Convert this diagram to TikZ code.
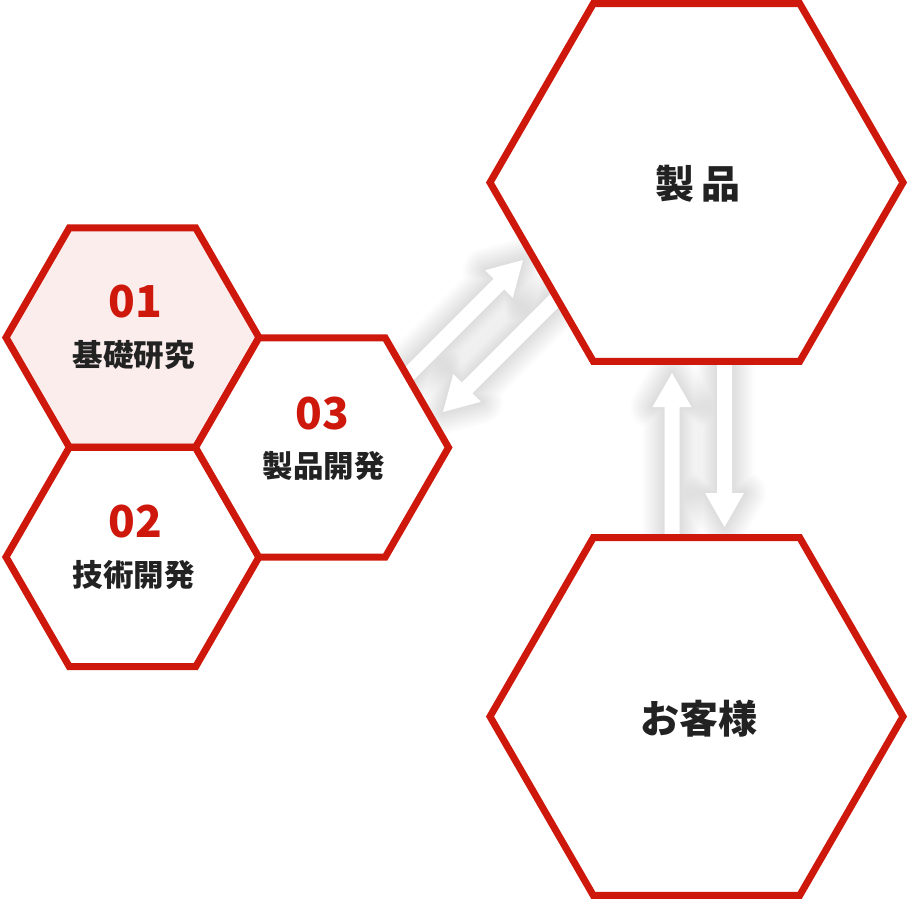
\documentclass[tikz,border=0pt]{standalone}
\usepackage{fontspec}
\setmainfont{Noto Sans CJK JP}
\usetikzlibrary{shapes.geometric,calc}
\definecolor{hexred}{RGB}{206,24,12}
\definecolor{hexpink}{RGB}{252,237,237}
\definecolor{txtdark}{RGB}{34,34,34}
\newcommand\shadowarrow[2]{%
  \begin{scope}[shift={(2,5)}]
  \foreach \w in {4,8,...,44}{%
    \draw[black, opacity=0.01, line width=\w pt, line join=round]
      ($(#1)!7.5pt!90:(#2)$) -- ($(#2)!34pt!(#1)!7.5pt!90:(#2)$) -- ($(#2)!34pt!(#1)!19.5pt!90:(#2)$) -- (#2) -- ($(#2)!34pt!(#1)!19.5pt!-90:(#2)$) -- ($(#2)!34pt!(#1)!7.5pt!-90:(#2)$) -- ($(#1)!7.5pt!-90:(#2)$) -- cycle;}
  \end{scope}
  \fill[white]
      ($(#1)!7.5pt!90:(#2)$) -- ($(#2)!34pt!(#1)!7.5pt!90:(#2)$) -- ($(#2)!34pt!(#1)!19.5pt!90:(#2)$) -- (#2) -- ($(#2)!34pt!(#1)!19.5pt!-90:(#2)$) -- ($(#2)!34pt!(#1)!7.5pt!-90:(#2)$) -- ($(#1)!7.5pt!-90:(#2)$) -- cycle;}
\tikzset{
  hex/.style={regular polygon, regular polygon sides=6, draw=hexred, line width=7pt, fill=white, inner sep=0pt, outer sep=0pt},
  smallhex/.style={hex, minimum size=253pt},
  bighex/.style={hex, minimum size=413pt},
  numtxt/.style={text=hexred, font=\bfseries\fontsize{44}{44}\selectfont, anchor=base, inner sep=0pt},
  lbltxt/.style={text=txtdark, font=\bfseries\fontsize{30.5}{30.5}\selectfont, inner sep=0pt},
  biglbl/.style={text=txtdark, font=\bfseries\fontsize{39}{39}\selectfont, inner sep=0pt},
}
\begin{document}
\begin{tikzpicture}[x=1pt,y=-1pt]
\useasboundingbox (0,0) rectangle (910,898);
% arrow end points
\coordinate (aT) at (407,376);
\coordinate (aH) at (523,260);
\coordinate (bT) at (557,298);
\coordinate (bH) at (443,412);
\coordinate (cT) at (672,540);
\coordinate (cH) at (672,373);
\coordinate (dT) at (724.5,361);
\coordinate (dH) at (724.5,527);
\shadowarrow{aT}{aH}
\shadowarrow{bT}{bH}
\shadowarrow{cT}{cH}
\shadowarrow{dT}{dH}
% hexagons
\node[smallhex, fill=hexpink] (h01) at (132.5,337.5) {};
\node[smallhex] (h02) at (132.5,557) {};
\node[smallhex] (h03) at (322,447.5) {};
\node[bighex] (prod) at (696.5,182.5) {};
\node[bighex] (cust) at (696.5,716.5) {};
% texts
\node[numtxt] (n01) at (135,317) {01};
\node[lbltxt] (t01) at (133.5,355) {基礎研究};
\node[numtxt] (n02) at (135,537) {02};
\node[lbltxt] (t02) at (133.5,575) {技術開発};
\node[numtxt] (n03) at (322,429) {03};
\node[lbltxt] (t03) at (323.5,466) {製品開発};
\node[biglbl] (tp) at (698,183.5) {製\hspace{7pt}品};
\node[biglbl] (tc) at (699,718.5) {お客様};
\end{tikzpicture}
\end{document}
